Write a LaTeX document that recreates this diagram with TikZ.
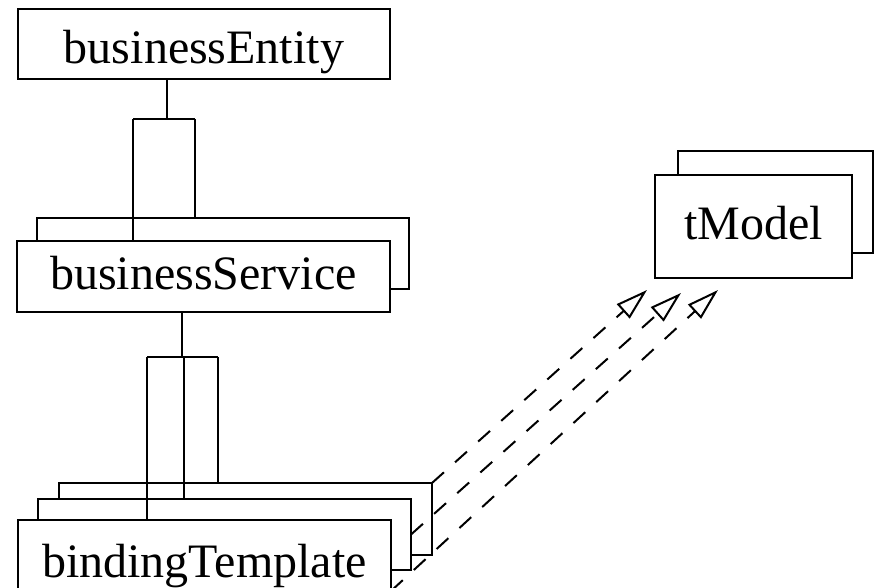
\documentclass[tikz,border=0pt]{standalone}
\usepackage{fontspec}
\setmainfont{Liberation Serif}
\usetikzlibrary{arrows.meta}

\begin{document}
\begin{tikzpicture}[x=1pt, y=-1pt, line width=2pt,
  box/.style={draw, fill=white, inner sep=0pt, outer sep=0pt,
    font=\fontsize{48}{48}\selectfont, text depth=0pt},
  realizes/.style={dash pattern=on 16pt off 15pt,
    -{Triangle[open, length=32pt, width=19pt]}}
]
\clip (0,0) rectangle (876,588);
\fill[white] (0,0) rectangle (876,588);

% businessEntity
\node[box, minimum width=372pt, minimum height=70pt, text height=40pt]
  (be) at (204,44) {businessEntity};

% businessService (stacked: several instances)
\node[box, minimum width=372pt, minimum height=71pt] (bsBack) at (223,253.5) {};
\node[box, minimum width=373pt, minimum height=71pt, text height=27pt]
  (bsFront) at (203.5,276.5) {businessService};

% bindingTemplate (stacked)
\node[box, minimum width=373pt, minimum height=72pt] (btBack) at (245.5,519) {};
\node[box, minimum width=373pt, minimum height=71pt] (btMid) at (224.5,534.5) {};
\node[box, minimum width=373pt, minimum height=71pt, text height=43pt]
  (btFront) at (204.5,555.5) {bindingTemplate};

% tModel (stacked)
\node[box, minimum width=195pt, minimum height=102pt] (tmBack) at (775.5,202) {};
\node[box, minimum width=197pt, minimum height=103pt, text height=27pt]
  (tmFront) at (753.5,226.5) {tModel};

% businessEntity -> businessService composition fork
\coordinate (fa) at (167,119);
\coordinate (faL) at (133,119);
\coordinate (faR) at (195,119);
\draw (be.south -| fa) -- (fa);
\draw (faL) -- (faR);
\draw (faL) -- (faL |- bsFront.north);
\draw (faR) -- (faR |- bsBack.north);

% businessService -> bindingTemplate composition fork
\coordinate (fb) at (182,357);
\coordinate (fbL) at (147,357);
\coordinate (fbM) at (184,357);
\coordinate (fbR) at (218,357);
\draw (bsFront.south -| fb) -- (fb);
\draw (fbL) -- (fbR);
\draw (fbL) -- (fbL |- btFront.north);
\draw (fbM) -- (fbM |- btMid.north);
\draw (fbR) -- (fbR |- btBack.north);

% bindingTemplate -> tModel references
\coordinate (tipA) at (647,290);
\coordinate (tipB) at (681,293);
\coordinate (tipC) at (718,290);
\draw[realizes] (btBack.north east) -- (tipA);
\draw[realizes] (btMid.east) -- (tipB);
\draw[realizes] (btFront.south east) -- (tipC);
\end{tikzpicture}
\end{document}
